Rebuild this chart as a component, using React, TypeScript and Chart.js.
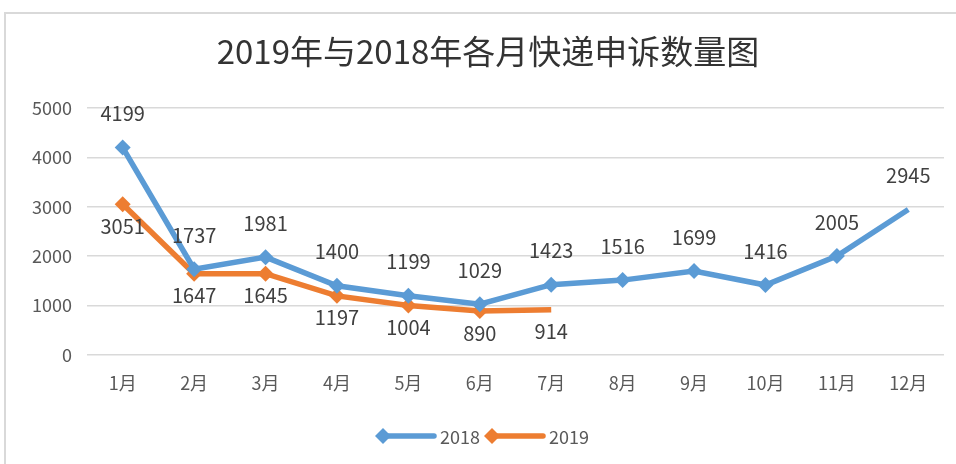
import React, { useEffect, useRef } from "react";
import { Chart, registerables } from "chart.js";

Chart.register(...registerables);

const categories = ["1月", "2月", "3月", "4月", "5月", "6月", "7月", "8月", "9月", "10月", "11月", "12月"];
const series2018 = [4199, 1737, 1981, 1400, 1199, 1029, 1423, 1516, 1699, 1416, 2005, 2945];
const series2019 = [3051, 1647, 1645, 1197, 1004, 890, 914];
const yTicks = [0, 1000, 2000, 3000, 4000, 5000];
const titleText = "2019年与2018年各月快递申诉数量图";
const legendLabels = ["2018", "2019"];

const BLUE = "#5B9BD5";
const ORANGE = "#ED7D31";
const FONT = "'Noto Sans CJK SC', 'Noto Sans', sans-serif";

function drawDiamond(ctx: CanvasRenderingContext2D, x: number, y: number, r: number, color: string) {
  ctx.save();
  ctx.fillStyle = color;
  ctx.beginPath();
  ctx.moveTo(x, y - r);
  ctx.lineTo(x + r, y);
  ctx.lineTo(x, y + r);
  ctx.lineTo(x - r, y);
  ctx.closePath();
  ctx.fill();
  ctx.restore();
}

const decorPlugin = {
  id: "decor",
  beforeDraw(chart: any) {
    const ctx = chart.ctx;
    ctx.save();
    ctx.fillStyle = "#ffffff";
    ctx.fillRect(0, 0, chart.width, chart.height);
    ctx.strokeStyle = "#d9d9d9";
    ctx.lineWidth = 2;
    ctx.beginPath();
    ctx.moveTo(5, chart.height + 5);
    ctx.lineTo(5, 13);
    ctx.lineTo(chart.width + 5, 13);
    ctx.stroke();
    ctx.restore();
  },
  afterDraw(chart: any) {
    const ctx = chart.ctx;
    ctx.save();
    // title
    ctx.fillStyle = "#333333";
    ctx.font = `33px ${FONT}`;
    ctx.textAlign = "center";
    ctx.textBaseline = "middle";
    ctx.fillText(titleText, 488, 51);

    // data labels
    ctx.font = `20px ${FONT}`;
    ctx.fillStyle = "#404040";
    chart.data.datasets.forEach((ds: any, di: number) => {
      const meta = chart.getDatasetMeta(di);
      meta.data.forEach((pt: any, i: number) => {
        const v = ds.data[i];
        const y = di === 0 ? pt.y - 34 : pt.y + 22;
        ctx.fillText(String(v), pt.x, y);
      });
    });

    // legend
    const items = [
      { label: legendLabels[0], color: BLUE, x: 383 },
      { label: legendLabels[1], color: ORANGE, x: 492 },
    ];
    const ly = 436;
    items.forEach((it) => {
      ctx.strokeStyle = it.color;
      ctx.lineWidth = 5.5;
      ctx.lineCap = "round";
      ctx.beginPath();
      ctx.moveTo(it.x, ly);
      ctx.lineTo(it.x + 51, ly);
      ctx.stroke();
      drawDiamond(ctx, it.x, ly, 8, it.color);
      ctx.fillStyle = "#595959";
      ctx.font = `18px ${FONT}`;
      ctx.textAlign = "left";
      ctx.fillText(it.label, it.x + 57, ly + 1);
    });
    ctx.restore();
  },
};

export default function App() {
  const ref = useRef<HTMLCanvasElement | null>(null);

  useEffect(() => {
    document.body.style.margin = "0";
    if (!ref.current) return;
    const radius2018 = series2018.map((_, i) => (i === series2018.length - 1 ? 0 : 8));
    const radius2019 = series2019.map((_, i) => (i === series2019.length - 1 ? 0 : 8));
    const chart = new Chart(ref.current, {
      type: "line",
      data: {
        labels: categories,
        datasets: [
          {
            label: legendLabels[0],
            data: series2018,
            borderColor: BLUE,
            backgroundColor: BLUE,
            borderWidth: 5.5,
            pointStyle: "rectRot",
            pointRadius: radius2018,
            pointBorderWidth: 0,
            tension: 0,
          },
          {
            label: legendLabels[1],
            data: series2019,
            borderColor: ORANGE,
            backgroundColor: ORANGE,
            borderWidth: 5.5,
            pointStyle: "rectRot",
            pointRadius: radius2019,
            pointBorderWidth: 0,
            tension: 0,
          },
        ],
      },
      options: {
        animation: false,
        responsive: false,
        maintainAspectRatio: false,
        layout: { padding: { top: 108, right: 12, bottom: 59, left: 0 } },
        plugins: {
          legend: { display: false },
          title: { display: false },
          tooltip: { enabled: false },
        },
        scales: {
          x: {
            offset: true,
            grid: { display: false, drawTicks: false },
            border: { display: false },
            ticks: {
              color: "#595959",
              font: { family: FONT, size: 18 },
              padding: 17,
              maxRotation: 0,
            },
            afterFit: (s: any) => {
              s.height = 50;
            },
          },
          y: {
            min: 0,
            max: 5000,
            afterBuildTicks: (s: any) => {
              s.ticks = yTicks.map((v) => ({ value: v }));
            },
            grid: { color: "#d9d9d9", lineWidth: 1.5, drawTicks: false },
            border: { display: false },
            ticks: {
              color: "#595959",
              font: { family: FONT, size: 18 },
              padding: 15,
              callback: (v: any) => String(v),
            },
            afterFit: (s: any) => {
              s.width = 87;
            },
          },
        },
      },
      plugins: [decorPlugin],
    });
    return () => chart.destroy();
  }, []);

  return (
    <div style={{ position: "absolute", left: 0, top: 0, width: 956, height: 464 }}>
      <canvas ref={ref} width={956} height={464} style={{ width: 956, height: 464 }} />
    </div>
  );
}
